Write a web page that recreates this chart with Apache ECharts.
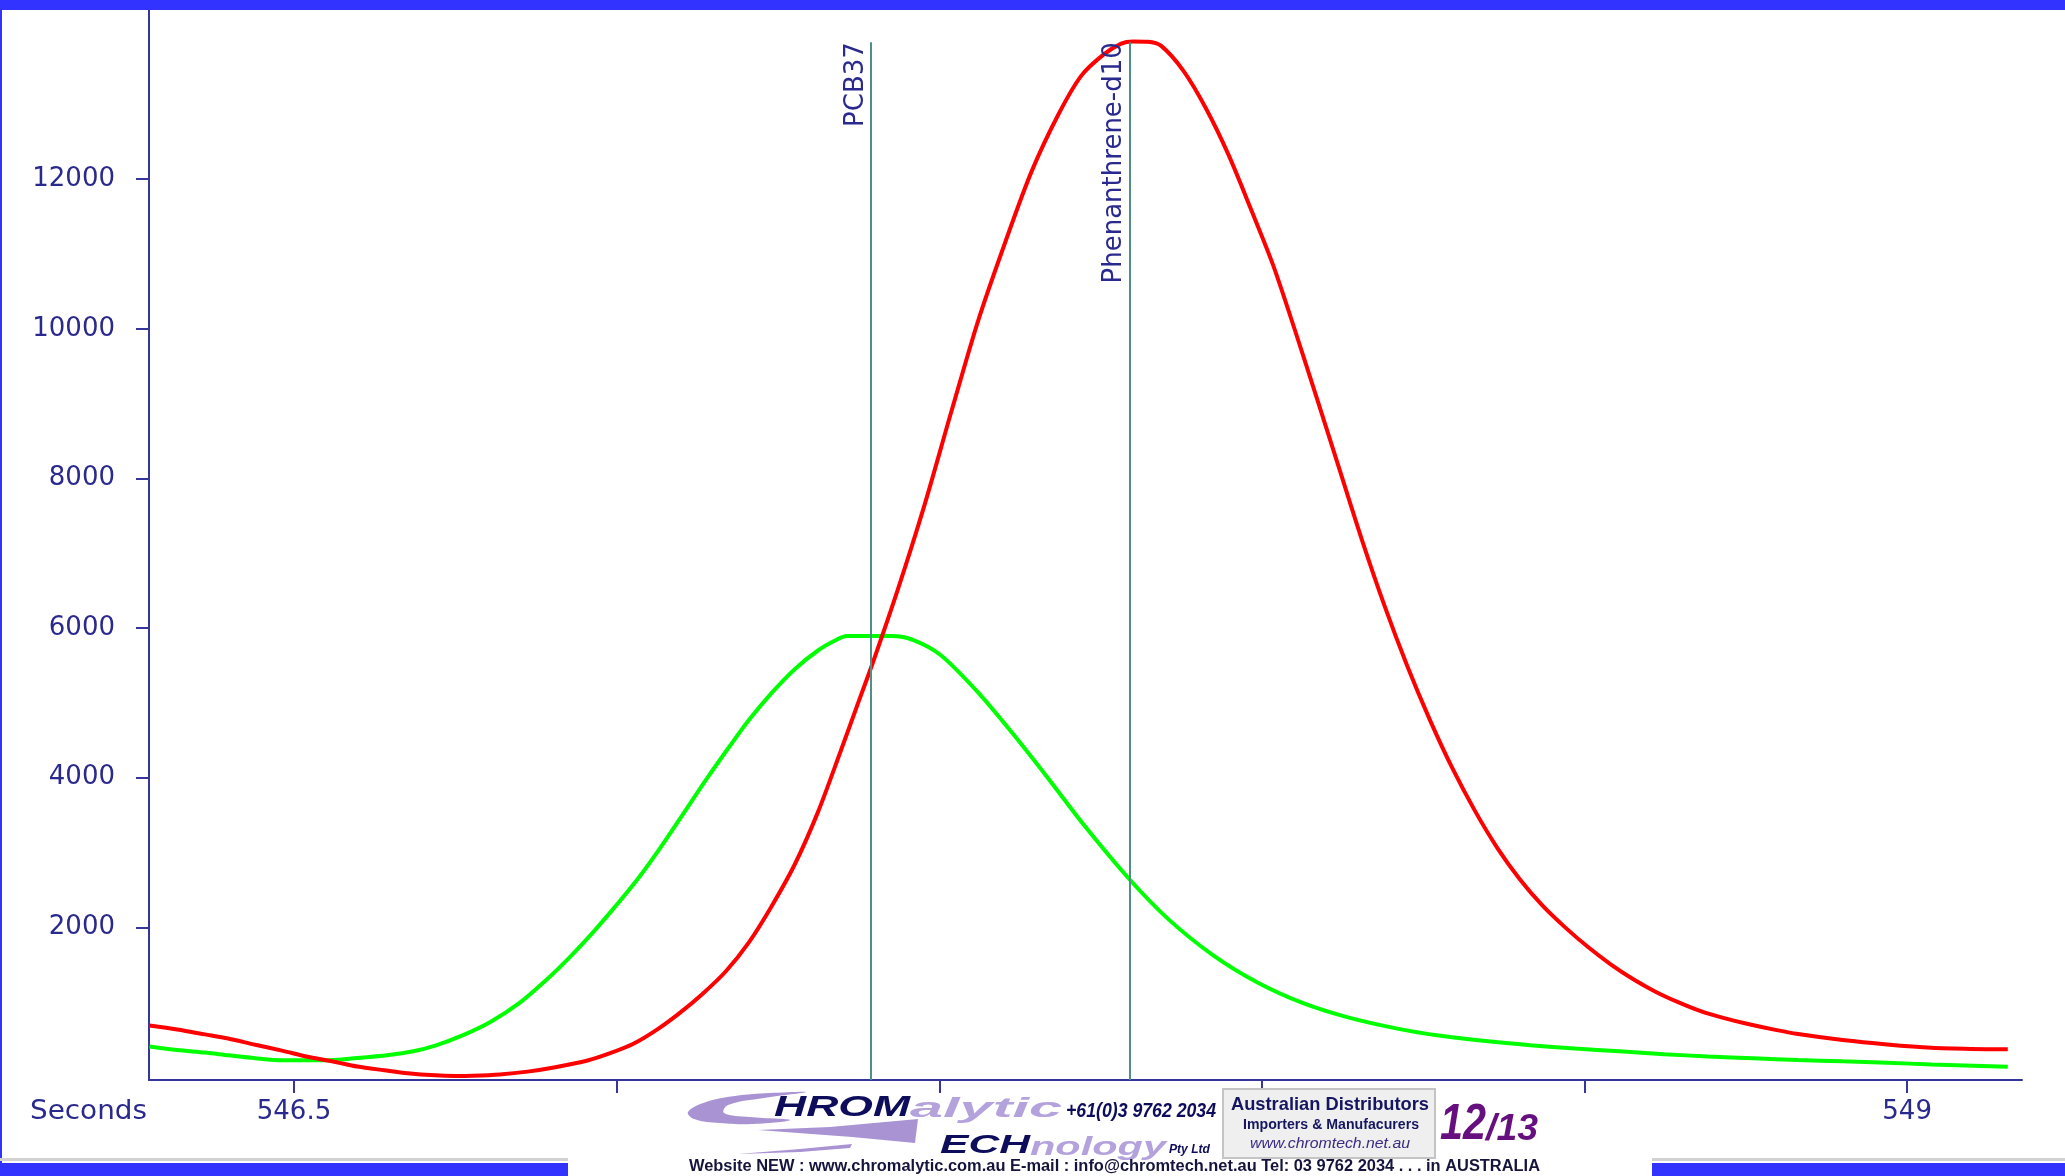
<!DOCTYPE html>
<html>
<head>
<meta charset="utf-8">
<script src="https://cdn.jsdelivr.net/npm/echarts@6/dist/echarts.min.js"></script>
<style>
  html, body { margin: 0; padding: 0; background: #ffffff; }
  #chart { width: 2065px; height: 1176px; }
</style>
</head>
<body>
<div id="chart"></div>
<script>
// Retention time (s) and detector counts for the two extracted ion traces
const phenTimes = [
  546.276, 546.319, 546.362, 546.398, 546.440, 546.483, 546.519, 546.562, 546.598, 546.640,
  546.676, 546.719, 546.750, 546.776, 546.819, 546.862, 546.905, 546.955, 546.990,
  547.026, 547.062, 547.097, 547.133, 547.169, 547.205, 547.240, 547.276, 547.312, 547.347,
  547.376, 547.398, 547.436, 547.477, 547.519, 547.560, 547.602, 547.643, 547.685, 547.720,
  547.754, 547.782, 547.800, 547.823, 547.844, 547.879, 547.913, 547.948, 547.982,
  548.017, 548.052, 548.086, 548.121, 548.155, 548.190, 548.225, 548.260, 548.295, 548.330,
  548.365, 548.400, 548.435, 548.470, 548.505, 548.540, 548.575, 548.610, 548.645, 548.680,
  548.715, 548.750, 548.796, 548.831, 548.900, 548.969,
  549.038, 549.100, 549.156
];
const phenCounts = [
  688, 634, 570, 515, 431, 349, 273, 205, 140, 90,
  50, 22, 15, 18, 35, 72, 130, 220, 318,
  444, 630, 850, 1110, 1410, 1800, 2280, 2840, 3540, 4350,
  5040, 5560, 6520, 7640, 8900, 10100, 11150, 12100, 12870, 13380,
  13660, 13810, 13840, 13835, 13780, 13440, 12950, 12330, 11620,
  10860, 9960, 9050, 8100, 7180, 6300, 5500, 4780, 4130, 3560,
  3060, 2640, 2290, 2000, 1740, 1510, 1310, 1140, 1000, 880,
  790, 715, 630, 575, 495, 435,
  390, 375, 372
];

const pcbTimes = [
  546.276, 546.319, 546.362, 546.398, 546.440, 546.483, 546.548, 546.598, 546.647, 546.683,
  546.719, 546.762, 546.805, 546.848, 546.890, 546.926, 546.962, 546.997,
  547.033, 547.069, 547.105, 547.140, 547.176, 547.205, 547.240, 547.276, 547.312, 547.340,
  547.357, 547.426, 547.460, 547.502, 547.558, 547.613, 547.668, 547.724, 547.793, 547.855,
  547.924, 547.994,
  548.063, 548.132, 548.208, 548.277, 548.347, 548.416, 548.485, 548.554, 548.623, 548.692,
  548.762, 548.831, 548.900, 548.969,
  549.038, 549.156
];
const pcbCounts = [
  408, 361, 326, 290, 250, 223, 223, 254, 294, 340,
  420, 560, 740, 980, 1290, 1590, 1920, 2270,
  2650, 3080, 3540, 3990, 4430, 4770, 5130, 5450, 5700, 5840,
  5893, 5893, 5840, 5640, 5160, 4600, 4000, 3370, 2660, 2110,
  1630, 1260,
  990, 800, 650, 550, 480, 425, 380, 345, 305, 275,
  250, 227, 209, 191,
  167, 138
];

// Peak identification markers
const markerNames = ['PCB37', 'Phenanthrene-d10'];
const markerTimes = [547.394, 547.795];
const markerTop = 13830;

// Axis ticks and labels
const xTickValues = [546.5, 547, 547.5, 548, 548.5, 549];
const xLabelValues = [546.5, 549];
const yTickValues = [2000, 4000, 6000, 8000, 10000, 12000];
const xRange = [546.2753, 549.178];
const yRange = [-40, 14260];

const AXIS_COLOR = '#35359c';
const LABEL_COLOR = '#2a2a8e';
const FRAME_BLUE = '#3333ff';
const NAVY = '#0d0d5c';
const LAVENDER = '#b4a2dc';

const measureCtx = document.createElement('canvas').getContext('2d');

// Text stretched horizontally to a target width (the banner uses an extended face)
function fitText(text, font, x, y, width, fill, align) {
  measureCtx.font = font;
  const w = measureCtx.measureText(text).width;
  const sx = width / w;
  const left = align === 'center' ? x - width / 2 : x;
  return {
    type: 'text', x: left, y: y, scaleX: sx, z: 20, silent: true,
    style: {
      text: text, font: font, fill: fill,
      align: 'left', verticalAlign: 'middle',
      textAlign: 'left', textVerticalAlign: 'middle'
    }
  };
}

const banner = [
  // purple swoosh forming the C and T of the logo
  { type: 'polygon', z: 15, silent: true,
    shape: { smooth: 0.4, points: [[806,1092],[770,1093],[735,1096],[706,1102],[688,1112],[694,1119],[720,1123],[754,1124],[790,1120],[750,1117],[724,1113],[728,1105],[764,1098]] },
    style: { fill: '#a993d3' } },
  { type: 'polygon', z: 15, silent: true,
    shape: { points: [[758,1130],[830,1127],[918,1119],[915,1143],[852,1137]] },
    style: { fill: '#a993d3' } },
  { type: 'polygon', z: 15, silent: true,
    shape: { points: [[738,1154],[800,1149],[852,1144],[850,1148],[800,1152]] },
    style: { fill: '#a993d3' } },
  fitText('HROM', 'italic bold 30px "Liberation Sans"', 774, 1108, 136, NAVY),
  fitText('alytic', 'italic bold 27px "Liberation Sans"', 910, 1110, 152, LAVENDER),
  fitText('+61(0)3 9762 2034', 'italic bold 20px "Liberation Sans"', 1066, 1111, 150, NAVY),
  { type: 'rect', z: 15, silent: true,
    shape: { x: 1223, y: 1089, width: 212, height: 69 },
    style: { fill: '#efefef', stroke: '#c4c4c4', lineWidth: 2 } },
  fitText('Australian Distributors', 'bold 19px "Liberation Sans"', 1330, 1105, 198, '#161660', 'center'),
  fitText('Importers & Manufacurers', 'bold 15px "Liberation Sans"', 1331, 1125, 176, '#161660', 'center'),
  fitText('www.chromtech.net.au', 'italic 15px "Liberation Sans"', 1330, 1144, 160, '#3b2a80', 'center'),
  fitText('12', 'italic bold 50px "Liberation Sans"', 1440, 1125, 46, '#66107f'),
  fitText('/13', 'italic bold 36px "Liberation Sans"', 1486, 1130, 52, '#66107f'),
  fitText('ECH', 'italic bold 26px "Liberation Sans"', 940, 1146, 90, NAVY),
  fitText('nology', 'italic bold 26px "Liberation Sans"', 1030, 1148, 136, LAVENDER),
  fitText('Pty Ltd', 'italic bold 13px "Liberation Sans"', 1169, 1149, 41, NAVY),
  fitText('Website NEW : www.chromalytic.com.au E-mail : info@chromtech.net.au Tel: 03 9762 2034 . . . in AUSTRALIA',
    'bold 16px "Liberation Sans"', 689, 1167, 851, '#14143c')
];

const frame = [
  { type: 'rect', z: 30, silent: true, shape: { x: 0, y: 0, width: 2065, height: 10 }, style: { fill: FRAME_BLUE } },
  { type: 'rect', z: 30, silent: true, shape: { x: 0, y: 0, width: 2, height: 1163 }, style: { fill: FRAME_BLUE } },
  { type: 'rect', z: 30, silent: true, shape: { x: 0, y: 1158, width: 568, height: 3 }, style: { fill: '#d2d2d2' } },
  { type: 'rect', z: 30, silent: true, shape: { x: 0, y: 1163, width: 568, height: 13 }, style: { fill: FRAME_BLUE } },
  { type: 'rect', z: 30, silent: true, shape: { x: 1652, y: 1158, width: 413, height: 3 }, style: { fill: '#d2d2d2' } },
  { type: 'rect', z: 30, silent: true, shape: { x: 1652, y: 1163, width: 413, height: 13 }, style: { fill: FRAME_BLUE } },
  fitText('Seconds', '26px "DejaVu Sans"', 30, 1112, 117, LABEL_COLOR)
];

const labelFont = { fontFamily: 'DejaVu Sans', fontSize: 26, color: LABEL_COLOR };

const chart = echarts.init(document.getElementById('chart'), null, { renderer: 'canvas' });
chart.setOption({
  animation: false,
  backgroundColor: '#ffffff',
  grid: { left: 149, right: 43, top: 10, bottom: 96, containLabel: false, outerBoundsMode: 'none' },
  xAxis: {
    type: 'value', min: xRange[0], max: xRange[1],
    axisLine: { show: true, onZero: false, lineStyle: { color: AXIS_COLOR, width: 2 } },
    axisTick: { show: true, length: 13, customValues: xTickValues, lineStyle: { color: AXIS_COLOR, width: 2 } },
    axisLabel: Object.assign({ show: true, margin: 19, customValues: xLabelValues,
      formatter: function (v) { return String(v); } }, labelFont),
    splitLine: { show: false }
  },
  yAxis: {
    type: 'value', min: yRange[0], max: yRange[1],
    axisLine: { show: true, onZero: false, lineStyle: { color: AXIS_COLOR, width: 2 } },
    axisTick: { show: true, length: 13, customValues: yTickValues, lineStyle: { color: AXIS_COLOR, width: 2 } },
    axisLabel: Object.assign({ show: true, margin: 34, customValues: yTickValues,
      formatter: function (v) { return String(v); } }, labelFont),
    splitLine: { show: false }
  },
  series: [
    {
      name: 'PCB37', type: 'line', z: 2,
      data: pcbTimes.map(function (t, i) { return [t, pcbCounts[i]]; }),
      showSymbol: false, symbol: 'none', smooth: 0.3,
      lineStyle: { color: '#00ff00', width: 4 }, itemStyle: { color: '#00ff00' }
    },
    {
      name: 'Phenanthrene-d10', type: 'line', z: 3,
      data: phenTimes.map(function (t, i) { return [t, phenCounts[i]]; }),
      showSymbol: false, symbol: 'none', smooth: 0.3,
      lineStyle: { color: '#ff0000', width: 4 }, itemStyle: { color: '#ff0000' },
      markLine: {
        silent: true, symbol: 'none', animation: false,
        lineStyle: { color: '#4f8f8a', width: 2, type: 'solid' },
        label: Object.assign({ show: true, position: 'insideEndTop', distance: [0, 2], formatter: '{b}' }, labelFont),
        data: markerTimes.map(function (t, i) {
          return [{ name: markerNames[i], coord: [t, yRange[0]] }, { coord: [t, markerTop] }];
        })
      }
    }
  ],
  graphic: { elements: banner.concat(frame) }
});
</script>
</body>
</html>
